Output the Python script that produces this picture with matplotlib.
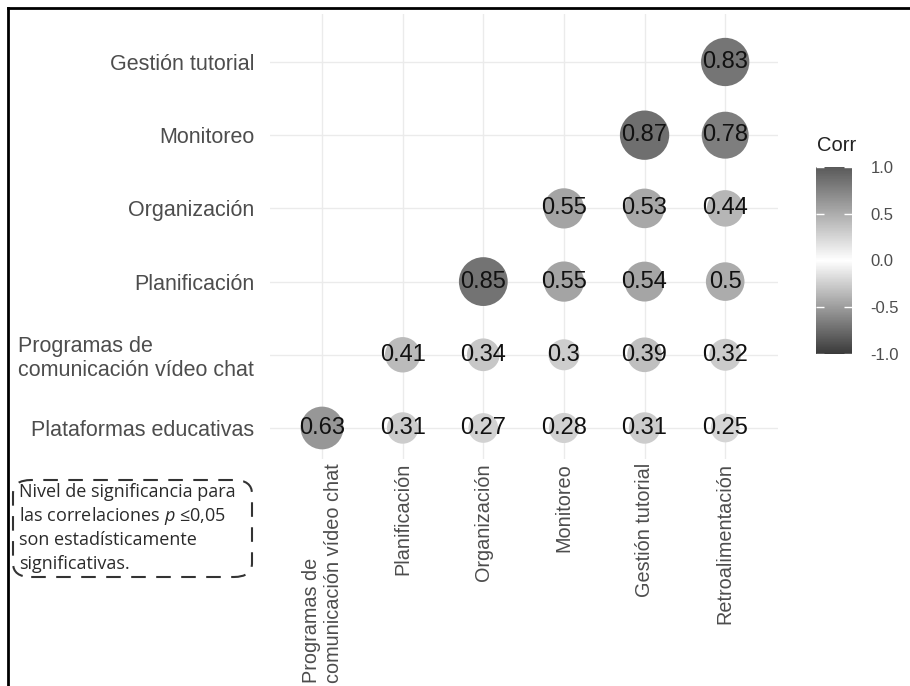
# Correlation plot (ggcorrplot style, circles, gray scale)
import numpy as np
import matplotlib
matplotlib.use("Agg")
import matplotlib.pyplot as plt
from matplotlib.colors import LinearSegmentedColormap, Normalize
from matplotlib.cm import ScalarMappable
from matplotlib.patches import FancyBboxPatch
from matplotlib.lines import Line2D

plt.rcParams["font.family"] = ["Liberation Sans", "DejaVu Sans"]
plt.rcParams["axes.unicode_minus"] = False
plt.rcParams["mathtext.fontset"] = "custom"
plt.rcParams["mathtext.it"] = "Open Sans:italic"
plt.rcParams["mathtext.rm"] = "Open Sans"

# Data
row_labels = ["Plataformas educativas", "Programas de\ncomunicación vídeo chat",
              "Planificación", "Organización", "Monitoreo", "Gestión tutorial"]
col_labels = ["Programas de\ncomunicación vídeo chat", "Planificación",
              "Organización", "Monitoreo", "Gestión tutorial", "Retroalimentación"]
r_plataformas = [0.63, 0.31, 0.27, 0.28, 0.31, 0.25]
r_programas = [None, 0.41, 0.34, 0.30, 0.39, 0.32]
r_planificacion = [None, None, 0.85, 0.55, 0.54, 0.50]
r_organizacion = [None, None, None, 0.55, 0.53, 0.44]
r_monitoreo = [None, None, None, None, 0.87, 0.78]
r_gestion = [None, None, None, None, None, 0.83]
matrix = [r_plataformas, r_programas, r_planificacion,
          r_organizacion, r_monitoreo, r_gestion]

note_lines = ["Nivel de significancia para",
              r"las correlaciones $p$ ≤0,05",
              "son estadísticamente",
              "significativas."]

# long table
xs, ys, vals = [], [], []
for i, row in enumerate(matrix):
    for j, v in enumerate(row):
        if v is not None:
            xs.append(j)
            ys.append(i)
            vals.append(v)
vals = np.array(vals)

cmap = LinearSegmentedColormap.from_list("grays", ["#3a3a3a", "#ffffff", "#5a5a5a"])
norm = Normalize(-1, 1)

fig = plt.figure(figsize=(9.1, 6.86), dpi=100)
ax = fig.add_axes([0.2963, 0.3313, 0.5582, 0.6477])

# circle diameter (px) grows with sqrt(|r|), like ggplot's area scale
diam_px = 5 + 47.5 * np.sqrt(np.abs(vals))
sizes = (diam_px * 0.72) ** 2
ax.scatter(xs, ys, s=sizes, c=vals, cmap=cmap, norm=norm, linewidths=0, zorder=2)
for x, y, v in zip(xs, ys, vals):
    ax.text(x, y, f"{v:g}", ha="center", va="center", fontsize=17,
            color="#111111", zorder=3)

ax.set_xlim(-0.65, 5.65)
ax.set_ylim(-0.42, 5.65)
ax.set_xticks(range(len(col_labels)))
ax.set_yticks(range(len(row_labels)))
ax.set_xticklabels(col_labels, rotation=90, fontsize=14.3, color="#4d4d4d",
                   multialignment="left")
ax.set_yticklabels(row_labels, fontsize=15.5, color="#4d4d4d",
                   multialignment="left")
ax.tick_params(length=0)
ax.tick_params(axis="y", pad=11)
ax.tick_params(axis="x", pad=3)
ax.grid(True, color="#ebebeb", linewidth=1)
ax.set_axisbelow(True)
for s in ax.spines.values():
    s.set_visible(False)

# colorbar
cax = fig.add_axes([0.8967, 0.484, 0.040, 0.2726])
cb = fig.colorbar(ScalarMappable(norm=norm, cmap=cmap), cax=cax,
                  ticks=[-1, -0.5, 0, 0.5, 1])
cb.outline.set_visible(False)
cb.ax.set_yticklabels(["-1.0", "-0.5", "0.0", "0.5", "1.0"])
cax.tick_params(axis="y", direction="in", color="white", length=6, width=1,
                left=True, right=True, labelsize=12, labelcolor="#4d4d4d", pad=13)
fig.text(0.8978, 0.788, "Corr", fontsize=14.5, color="#222222", ha="left", va="center")

# note box with dashed rounded border
box = FancyBboxPatch((13 / 910, 1 - 577 / 686), 239 / 910, 97 / 686,
                     boxstyle="round,pad=0,rounding_size=0.02",
                     transform=fig.transFigure, fill=False, edgecolor="#333333",
                     linewidth=1.5, linestyle=(0, (7, 5)))
fig.add_artist(box)
for k, line in enumerate(note_lines):
    fig.text(19 / 910, 1 - (492 + 24 * k) / 686, line, fontsize=13,
             family=["Open Sans", "DejaVu Sans"], color="#2a2a2a",
             ha="left", va="center")

# frame lines (top and left)
fig.add_artist(Line2D([8 / 910, 1], [1 - 8 / 686, 1 - 8 / 686],
                      transform=fig.transFigure, color="black", linewidth=2))
fig.add_artist(Line2D([8 / 910, 8 / 910], [0, 1 - 8 / 686],
                      transform=fig.transFigure, color="black", linewidth=2))

fig.savefig("out.png", dpi=100)
